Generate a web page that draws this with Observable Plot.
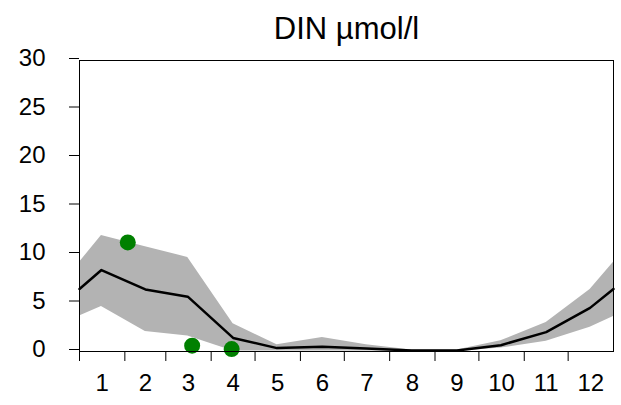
<!DOCTYPE html>
<html>
<head>
<meta charset="utf-8">
<script src="https://cdn.jsdelivr.net/npm/d3@7"></script>
<script src="https://cdn.jsdelivr.net/npm/@observablehq/plot@0.6"></script>
<style>
  html, body { margin: 0; padding: 0; background: #fff; }
  #chart svg { display: block; }
</style>
</head>
<body>
<div id="chart"></div>
<script>
// Day of year for climatology points (mid-month, plus wrap-around ends)
const days  = [0, 15, 45, 74, 105, 135, 166, 196, 227, 258, 288, 319, 349, 365];
const mean  = [6.45, 8.4, 6.4, 5.65, 1.4, 0.35, 0.5, 0.3, 0.1, 0.1, 0.65, 2.0, 4.5, 6.45];
const upper = [9.2, 11.95, 10.8, 9.7, 2.85, 0.7, 1.45, 0.7, 0.15, 0.15, 1.1, 3.0, 6.4, 9.2];
const lower = [3.65, 4.65, 2.05, 1.6, 0.05, 0.05, 0.05, 0.05, 0.0, 0.0, 0.35, 1.05, 2.5, 3.6];

// Observations
const obsDays   = [33, 77, 104];
const obsValues = [11.25, 0.6, 0.25];

// Axis
const monthStarts = [0, 31, 59, 90, 120, 151, 181, 212, 243, 273, 304, 334];
const monthMids   = [15.5, 45, 74.5, 105, 135.5, 166, 196.5, 227.5, 258, 288.5, 319, 349.5];
const monthLabels = ["1","2","3","4","5","6","7","8","9","10","11","12"];
const yTicks = [0, 5, 10, 15, 20, 25, 30];
const title = "DIN µmol/l";

const clim = days.map((d, i) => ({day: d, mean: mean[i], lo: lower[i], hi: upper[i]}));
const obs = obsDays.map((d, i) => ({day: d, value: obsValues[i]}));

const font = "'Liberation Sans', Arial, Helvetica, sans-serif";

const chart = Plot.plot({
  width: 621,
  height: 405,
  marginLeft: 79,
  marginRight: 8,
  marginTop: 60,
  marginBottom: 54,
  style: {fontFamily: font, color: "black", background: "white"},
  x: {domain: [0, 365]},
  y: {domain: [0, 30]},
  marks: [
    Plot.areaY(clim, {x: "day", y1: "lo", y2: "hi", fill: "#b3b3b3"}),
    Plot.lineY(clim, {x: "day", y: "mean", stroke: "black", strokeWidth: 2.5}),
    Plot.dot(obs, {x: "day", y: "value", r: 8, fill: "#008000", stroke: "none"}),
    Plot.frame({stroke: "black", strokeWidth: 1}),
    Plot.axisY({ticks: yTicks, tickSize: 10, tickPadding: 24, fontSize: 24, dy: -2, label: null, tickFormat: d => String(d)}),
    Plot.axisX({ticks: monthStarts, tickSize: 10, tickFormat: () => "", label: null}),
    Plot.axisX({ticks: monthMids, tickSize: 0, tickPadding: 22, fontSize: 24, label: null,
      tickFormat: d => monthLabels[monthMids.indexOf(d)]}),
    Plot.text([title], {frameAnchor: "top", dy: -31, fontSize: 31, fill: "black", lineAnchor: "middle"})
  ]
});
document.getElementById("chart").appendChild(chart);
</script>
</body>
</html>
